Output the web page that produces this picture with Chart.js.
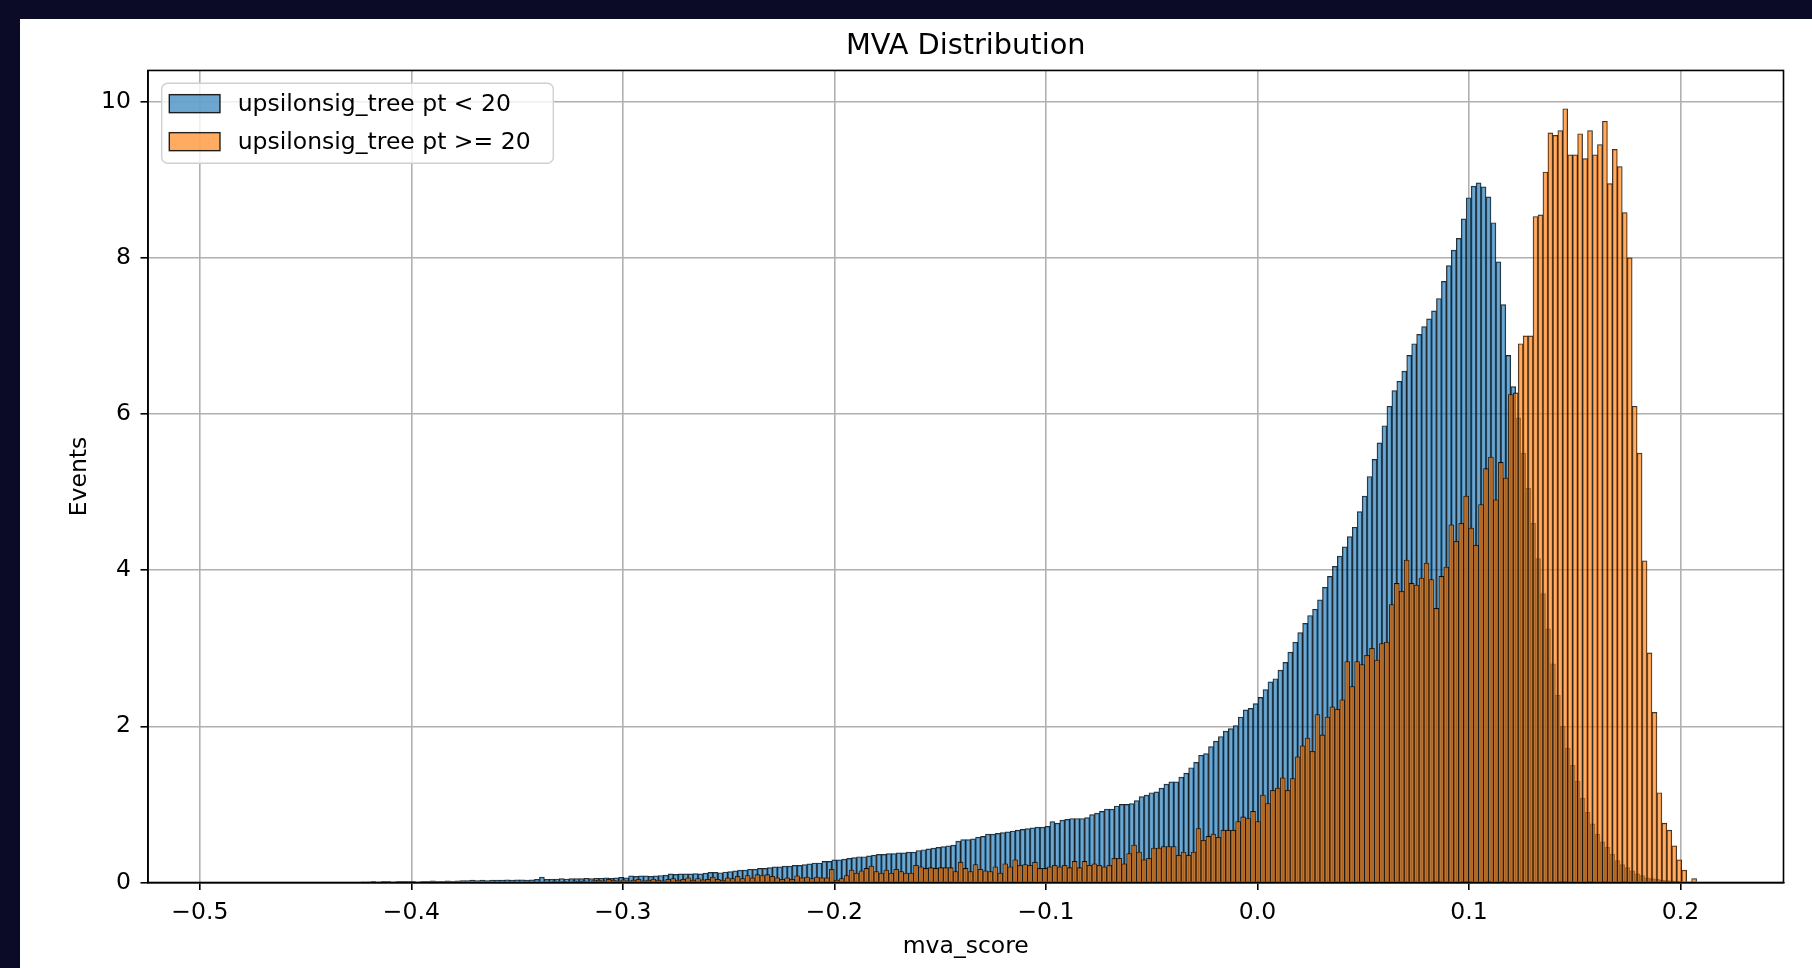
<!DOCTYPE html>
<html>
<head>
<meta charset="utf-8">
<script src="https://cdn.jsdelivr.net/npm/chart.js@4.4.1/dist/chart.umd.min.js"></script>
<style>
  html, body { margin: 0; padding: 0; width: 1812px; height: 968px; overflow: hidden; background: #0b0b27; }
  #panel { position: absolute; left: 20px; top: 19px; width: 1792px; height: 949px; background: #ffffff; }
</style>
</head>
<body>
<div id="panel"><canvas id="myChart" width="1792" height="949"></canvas></div>
<script>
// histogram bins: 300 equal bins per series, first edge and width
let binWidth = 0.002343;
let lowStart = -0.4894;
let highStart = -0.4906;   // the pt >= 20 histogram has its own bin edges

// heights, one per bin (left to right)
let lowPt = [
  0,0,0,0,0,0,0,0,0,0,
  0,0,0,0,0,0,0,0,0,0,
  0,0,0,0,0,0,0,0,0.01,0.01,
  0.015,0.01,0.015,0.015,0.01,0.015,0.015,0.015,0.015,0.01,
  0.015,0.015,0.02,0.015,0.015,0.02,0.015,0.02,0.025,0.025,
  0.03,0.025,0.03,0.025,0.03,0.03,0.03,0.035,0.03,0.035,
  0.035,0.03,0.035,0.04,0.07,0.04,0.045,0.045,0.05,0.045,
  0.05,0.05,0.05,0.055,0.05,0.055,0.055,0.06,0.055,0.06,
  0.065,0.06,0.085,0.08,0.085,0.085,0.08,0.085,0.09,0.095,
  0.11,0.105,0.11,0.11,0.11,0.115,0.11,0.12,0.13,0.13,
  0.125,0.135,0.14,0.15,0.16,0.16,0.17,0.17,0.18,0.18,
  0.19,0.2,0.2,0.21,0.21,0.22,0.22,0.23,0.24,0.25,
  0.25,0.27,0.27,0.29,0.29,0.30,0.31,0.32,0.33,0.33,
  0.34,0.35,0.36,0.36,0.37,0.37,0.38,0.38,0.39,0.39,
  0.41,0.42,0.43,0.44,0.45,0.46,0.47,0.48,0.53,0.55,
  0.55,0.56,0.58,0.59,0.62,0.62,0.63,0.64,0.65,0.66,
  0.67,0.68,0.69,0.70,0.71,0.71,0.72,0.78,0.76,0.80,
  0.81,0.82,0.82,0.82,0.83,0.87,0.89,0.91,0.94,0.94,
  0.98,1.00,1.00,1.01,1.05,1.10,1.12,1.15,1.16,1.21,
  1.26,1.29,1.29,1.35,1.40,1.47,1.54,1.63,1.65,1.74,
  1.81,1.87,1.94,1.97,2.01,2.12,2.21,2.23,2.29,2.37,
  2.47,2.57,2.61,2.72,2.82,2.95,3.08,3.20,3.32,3.42,
  3.50,3.62,3.78,3.92,4.05,4.18,4.30,4.43,4.55,4.75,
  4.95,5.20,5.42,5.63,5.85,6.10,6.30,6.42,6.55,6.75,
  6.90,7.02,7.12,7.22,7.32,7.48,7.70,7.90,8.10,8.25,
  8.50,8.77,8.92,8.96,8.91,8.78,8.45,7.95,7.40,6.75,
  6.35,5.95,5.50,5.05,4.60,4.15,3.70,3.25,2.80,2.40,
  2.00,1.72,1.50,1.30,1.08,0.90,0.75,0.62,0.52,0.45,
  0.36,0.28,0.23,0.19,0.15,0.11,0.09,0.06,0.05,0.04,
  0.03,0.025,0.02,0.015,0.01,0.01,0.005,0,0,0
];

let highPt = [
  0,0,0,0,0,0,0,0,0,0,
  0,0,0,0,0,0,0,0,0,0,
  0,0,0,0,0,0,0,0,0,0,
  0,0,0,0,0,0,0,0,0,0,
  0,0,0,0,0,0,0,0,0,0,
  0,0,0,0,0,0,0,0,0,0,
  0.005,0,0.005,0.005,0.01,0.005,0.01,0.02,0.01,0.015,
  0.01,0.02,0.015,0.02,0.01,0.025,0.03,0.02,0.04,0.03,
  0.02,0.035,0.02,0.03,0.04,0.02,0.03,0.045,0.03,0.02,
  0.04,0.05,0.03,0.04,0.06,0.03,0.05,0.035,0.04,0.07,
  0.04,0.03,0.06,0.05,0.08,0.05,0.09,0.06,0.1,0.09,
  0.1,0.08,0.06,0.04,0.06,0.04,0.085,0.06,0.07,0.05,
  0.07,0.06,0.06,0.17,0.03,0.05,0.09,0.16,0.12,0.15,
  0.18,0.21,0.14,0.12,0.16,0.12,0.17,0.14,0.12,0.12,
  0.22,0.2,0.18,0.19,0.18,0.19,0.19,0.19,0.14,0.26,
  0.18,0.14,0.23,0.17,0.15,0.14,0.2,0.12,0.24,0.2,
  0.29,0.22,0.23,0.22,0.26,0.18,0.18,0.2,0.22,0.2,
  0.22,0.19,0.27,0.19,0.27,0.22,0.24,0.22,0.2,0.22,
  0.31,0.31,0.24,0.37,0.48,0.39,0.29,0.31,0.44,0.44,
  0.46,0.46,0.46,0.35,0.39,0.35,0.39,0.69,0.54,0.59,
  0.62,0.58,0.67,0.67,0.67,0.78,0.84,0.82,0.91,0.78,
  1.12,1.01,1.18,1.21,1.34,1.18,1.33,1.61,1.75,1.85,
  1.68,2.15,1.89,2.12,2.25,2.22,2.34,2.83,2.51,2.83,
  2.79,2.91,3.0,2.85,3.06,3.08,3.56,3.83,3.73,4.13,
  3.83,3.81,3.9,4.09,3.88,3.51,3.92,4.04,4.58,4.37,
  4.6,4.95,4.54,4.32,4.84,5.3,5.45,4.9,5.38,5.18,
  6.25,6.27,6.9,7.0,7.0,8.53,8.55,9.1,9.6,9.57,
  9.63,9.91,9.32,9.32,9.59,9.27,9.63,9.32,9.45,9.75,
  8.95,9.39,9.17,8.58,8.0,6.1,5.5,4.12,2.94,2.18,
  1.15,0.76,0.67,0.47,0.29,0.16,0,0.05,0,0
];

let xTicks = [-0.5, -0.4, -0.3, -0.2, -0.1, 0.0, 0.1, 0.2];
let yTicks = [0, 2, 4, 6, 8, 10];

function toPoints(vals, start) {
  return vals.map((v, i) => ({ x: start + (i + 0.5) * binWidth, y: v }));
}

Chart.defaults.font.family = '"DejaVu Sans", sans-serif';
Chart.defaults.color = '#000';

let tickFont = { family: '"DejaVu Sans", sans-serif', size: 23.5 };

// legend box inside the axes + top/right frame lines
let boxLegend = {
  id: 'boxLegend',
  afterDraw(chart) {
    let ctx = chart.ctx;
    let a = chart.chartArea;
    ctx.save();
    ctx.strokeStyle = '#000';
    ctx.lineWidth = 1.6;
    ctx.strokeRect(a.left, a.top, a.right - a.left, a.bottom - a.top);

    let x0 = a.left + 13.7, y0 = a.top + 12.8;
    ctx.beginPath();
    ctx.roundRect(x0, y0, 391.6, 80, 6);
    ctx.fillStyle = 'rgba(255,255,255,0.8)';
    ctx.fill();
    ctx.strokeStyle = '#d0d0d0';
    ctx.lineWidth = 1.4;
    ctx.stroke();

    let items = [chart.data.datasets[0], chart.data.datasets[1]];
    items.forEach((ds, i) => {
      let cy = y0 + 20.4 + i * 38;
      ctx.fillStyle = ds.backgroundColor;
      ctx.fillRect(x0 + 7.6, cy - 9, 50.7, 18);
      ctx.strokeStyle = ds.borderColor;
      ctx.lineWidth = 1.4;
      ctx.strokeRect(x0 + 7.6, cy - 9, 50.7, 18);
      ctx.fillStyle = '#000';
      ctx.font = '23.5px "DejaVu Sans", sans-serif';
      ctx.textBaseline = 'middle';
      ctx.textAlign = 'left';
      ctx.fillText(ds.label, x0 + 76, cy + 1);
    });
    ctx.restore();
  }
};

let ctx = document.getElementById('myChart').getContext('2d');

let myChart = new Chart(ctx, {
  type: 'bar',
  data: {
    datasets: [
      {
        label: 'upsilonsig_tree pt < 20',
        data: toPoints(lowPt, lowStart),
        backgroundColor: 'rgba(31,119,180,0.65)',
        borderColor: 'rgba(0,0,0,0.85)',
        borderWidth: 0.8,
        grouped: false,
        barThickness: 4.956,
        order: 1
      },
      {
        label: 'upsilonsig_tree pt >= 20',
        data: toPoints(highPt, highStart),
        backgroundColor: 'rgba(255,127,14,0.65)',
        borderColor: 'rgba(0,0,0,0.85)',
        borderWidth: 0.8,
        grouped: false,
        barThickness: 4.956,
        order: 0
      }
    ]
  },
  options: {
    responsive: false,
    devicePixelRatio: 1,
    animation: false,
    layout: { padding: { left: 0, right: 28.5, top: 0, bottom: 0 } },
    plugins: {
      legend: { display: false },
      tooltip: { enabled: false },
      title: {
        display: true,
        fullSize: false,
        text: 'MVA Distribution',
        color: '#000',
        font: { family: '"DejaVu Sans", sans-serif', size: 28.8, weight: 'normal' },
        padding: { top: 10.3, bottom: 6.6 }
      }
    },
    scales: {
      x: {
        type: 'linear',
        min: -0.5245,
        max: 0.2487,
        offset: false,
        z: 1,
        afterBuildTicks: (axis) => { axis.ticks = xTicks.map(v => ({ value: v })); },
        afterFit: (scale) => { scale.height = 85.5; },
        grid: { offset: false, color: '#b0b0b0', lineWidth: 1.6, tickLength: 7.5, tickColor: '#000', tickWidth: 1.6 },
        border: { display: true, color: '#000', width: 1.6 },
        ticks: {
          font: tickFont, color: '#000', padding: 8.8, maxRotation: 0, autoSkip: false,
          callback: (v) => (v < -1e-9 ? '\u2212' : '') + Math.abs(v).toFixed(1)
        },
        title: { display: true, text: 'mva_score', color: '#000', font: tickFont, padding: { top: 0, bottom: 6.6 } }
      },
      y: {
        min: 0,
        max: 10.4,
        z: 1,
        afterBuildTicks: (axis) => { axis.ticks = yTicks.map(v => ({ value: v })); },
        afterFit: (scale) => { scale.width = 128; },
        grid: { color: '#b0b0b0', lineWidth: 1.6, tickLength: 7.5, tickColor: '#000', tickWidth: 1.6 },
        border: { display: true, color: '#000', width: 1.6 },
        ticks: { font: tickFont, color: '#000', padding: 9.5, callback: (v) => String(v) },
        title: { display: true, text: 'Events', color: '#000', font: tickFont, padding: { top: 45.5, bottom: 0 } }
      }
    }
  },
  plugins: [boxLegend]
});
</script>
</body>
</html>
